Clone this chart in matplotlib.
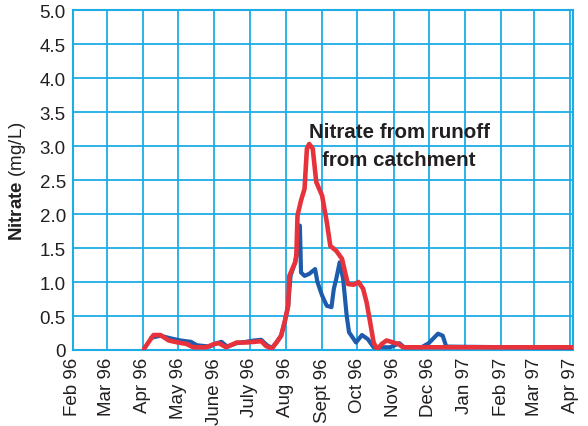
import matplotlib
matplotlib.use("Agg")
import matplotlib.pyplot as plt
import datetime as dt

# ---- data ----
month_ticks = ["1996-02-01", "1996-03-01", "1996-04-01", "1996-05-01", "1996-06-01",
               "1996-07-01", "1996-08-01", "1996-09-01", "1996-10-01", "1996-11-01",
               "1996-12-01", "1997-01-01", "1997-02-01", "1997-03-01", "1997-04-01"]
month_labels = ["Feb 96", "Mar 96", "Apr 96", "May 96", "June 96", "July 96", "Aug 96",
                "Sept 96", "Oct 96", "Nov 96", "Dec 96", "Jan 97", "Feb 97", "Mar 97", "Apr 97"]
y_ticks = [0, 0.5, 1.0, 1.5, 2.0, 2.5, 3.0, 3.5, 4.0, 4.5, 5.0]
y_labels = ["0", "0.5", "1.0", "1.5", "2.0", "2.5", "3.0", "3.5", "4.0", "4.5", "5.0"]

red_dates = ["1996-04-02", "1996-04-10", "1996-04-16", "1996-04-23", "1996-05-01",
             "1996-05-08", "1996-05-14", "1996-05-25", "1996-06-01", "1996-06-05",
             "1996-06-11", "1996-06-20", "1996-06-28", "1996-07-05", "1996-07-11",
             "1996-07-15", "1996-07-20", "1996-07-24", "1996-07-28", "1996-07-31",
             "1996-08-03", "1996-08-04", "1996-08-09", "1996-08-10", "1996-08-11",
             "1996-08-14", "1996-08-17", "1996-08-19", "1996-08-21", "1996-08-24",
             "1996-08-27", "1996-09-01", "1996-09-05", "1996-09-08", "1996-09-13",
             "1996-09-18", "1996-09-20", "1996-09-23", "1996-09-28", "1996-10-02",
             "1996-10-06", "1996-10-09", "1996-10-12", "1996-10-15", "1996-10-18",
             "1996-10-22", "1996-10-26", "1996-11-01", "1996-11-05", "1996-11-09",
             "1997-04-03"]
red_values = [0.02, 0.22, 0.22, 0.14, 0.11,
              0.09, 0.04, 0.04, 0.09, 0.10,
              0.04, 0.11, 0.11, 0.12, 0.13,
              0.06, 0.02, 0.11, 0.21, 0.41,
              0.65, 1.09, 1.29, 1.39, 1.98,
              2.20, 2.37, 2.96, 3.03, 2.96,
              2.47, 2.27, 1.88, 1.53, 1.46,
              1.34, 1.19, 0.97, 0.96, 1.00,
              0.90, 0.70, 0.41, 0.11, 0.01,
              0.09, 0.14, 0.11, 0.09, 0.04,
              0.04]

blue_dates = ["1996-04-08", "1996-04-16", "1996-04-25", "1996-05-03", "1996-05-12",
              "1996-05-17", "1996-05-28", "1996-06-03", "1996-06-07", "1996-06-12",
              "1996-06-20", "1996-06-28", "1996-07-05", "1996-07-11", "1996-07-16",
              "1996-07-20", "1996-07-24", "1996-07-28", "1996-07-31", "1996-08-03",
              "1996-08-05", "1996-08-09", "1996-08-10", "1996-08-13", "1996-08-14",
              "1996-08-17", "1996-08-21", "1996-08-26", "1996-08-28", "1996-09-01",
              "1996-09-05", "1996-09-09", "1996-09-11", "1996-09-13", "1996-09-16",
              "1996-09-19", "1996-09-22", "1996-09-24", "1996-09-30", "1996-10-05",
              "1996-10-10", "1996-10-15", "1996-10-29", "1996-11-06", "1996-11-10",
              "1996-11-25", "1996-12-01", "1996-12-09", "1996-12-13", "1996-12-16",
              "1997-04-03"]
blue_values = [0.18, 0.21, 0.17, 0.14, 0.12,
               0.07, 0.05, 0.10, 0.12, 0.05,
               0.10, 0.12, 0.14, 0.15, 0.07,
               0.03, 0.11, 0.21, 0.41, 0.65,
               1.09, 1.29, 1.39, 1.83, 1.14,
               1.09, 1.12, 1.19, 1.00, 0.80,
               0.65, 0.63, 0.90, 1.04, 1.29,
               1.04, 0.50, 0.26, 0.11, 0.22,
               0.16, 0.04, 0.04, 0.10, 0.04,
               0.04, 0.10, 0.24, 0.21, 0.05,
               0.03]

annotation_lines = ["Nitrate from runoff", "from catchment"]

# ---- style ----
plt.rcParams['font.family'] = ['Liberation Sans', 'DejaVu Sans']
plt.rcParams['mathtext.fontset'] = 'custom'
plt.rcParams['mathtext.rm'] = 'Liberation Sans'
plt.rcParams['mathtext.bf'] = 'Liberation Sans:bold'

grid_c = '#1DADE6'
red_c = '#E8323B'
blue_c = '#1E5CAB'
text_c = '#231F20'

def to_dates(lst):
    return [dt.datetime.strptime(s, "%Y-%m-%d") for s in lst]

fig = plt.figure(figsize=(5.88, 4.27), dpi=100)
ax = fig.add_axes([72.7 / 588, 1 - 351 / 427, 500 / 588, 340 / 427])

ax.plot(to_dates(blue_dates), blue_values, color=blue_c, lw=3.0,
        solid_joinstyle='round', solid_capstyle='round', zorder=3)
ax.plot(to_dates(red_dates), red_values, color=red_c, lw=3.3,
        solid_joinstyle='round', solid_capstyle='round', zorder=4)

ax.set_xlim(dt.datetime(1996, 2, 1), dt.datetime(1997, 4, 3))
ax.set_ylim(0, 5)

ax.set_xticks(to_dates(month_ticks))
ax.set_xticklabels(month_labels, rotation=90, fontsize=13.5, color=text_c,
                   ha='center', va='top')
ax.set_yticks(y_ticks)
ax.set_yticklabels(y_labels, fontsize=13.5, color=text_c)
ax.tick_params(axis='both', length=0)
ax.tick_params(axis='x', pad=5)
ax.tick_params(axis='y', pad=5)

ax.grid(True, color=grid_c, lw=1.3, zorder=1)
ax.set_axisbelow(True)
for sp in ax.spines.values():
    sp.set_color(grid_c)
    sp.set_linewidth(1.5)

fig.text(18 / 588, 1 - 181 / 427, r"$\bf{Nitrate}$ (mg/L)", rotation=90,
         fontsize=13.5, color=text_c, ha='center', va='center')

fig.text(309 / 588, 1 - 138.5 / 427, annotation_lines[0], fontsize=14.8,
         fontweight='bold', color=text_c, ha='left', va='baseline')
fig.text(322 / 588, 1 - 165.5 / 427, annotation_lines[1], fontsize=14.8,
         fontweight='bold', color=text_c, ha='left', va='baseline')

fig.savefig("out.png", dpi=100)
